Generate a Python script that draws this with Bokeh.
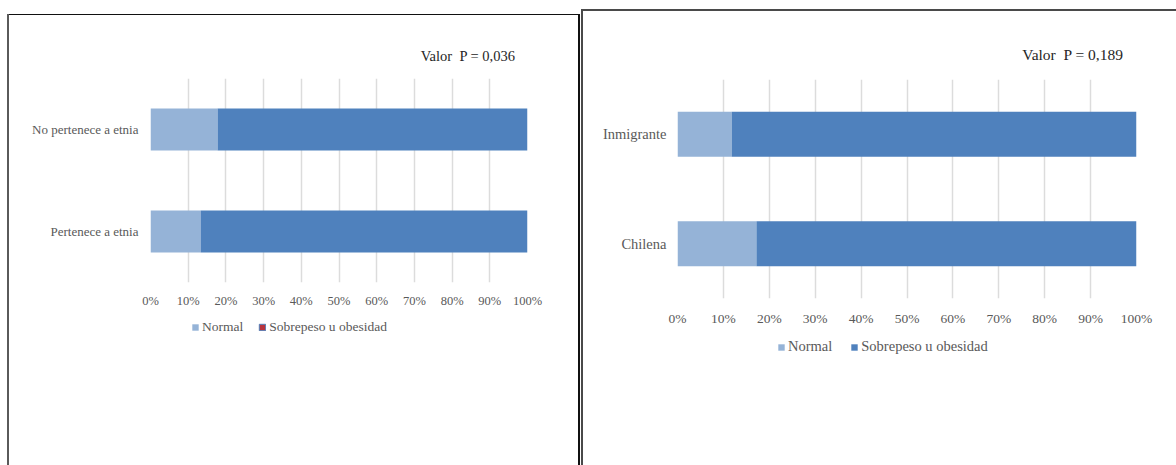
from bokeh.plotting import figure
from bokeh.models import (Range1d, FactorRange, PrintfTickFormatter, Legend,
                          LegendItem, ColumnDataSource)
from bokeh.layouts import row, column
from bokeh.embed import file_html
from bokeh.resources import INLINE

# Estado nutricional según etnia y según nacionalidad (porcentajes)
series = ["Normal", "Sobrepeso u obesidad"]

etnia_groups = ["Pertenece a etnia", "No pertenece a etnia"]
etnia_normal = [13.3, 17.8]
etnia_sobrepeso = [86.7, 82.2]
etnia_p = "Valor \u00a0P = 0,036"

origen_groups = ["Chilena", "Inmigrante"]
origen_normal = [17.2, 11.8]
origen_sobrepeso = [82.8, 88.2]
origen_p = "Valor \u00a0P = 0,189"

x_ticks = [0, 10, 20, 30, 40, 50, 60, 70, 80, 90, 100]

COLORS = ["#95b3d7", "#4f81bd"]
FONT = "Liberation Serif"
TEXT = "#595959"


def frame_css(lines):
    """Thin panel border lines painted as CSS background strips."""
    imgs = ", ".join("linear-gradient(%s, %s)" % (c, c) for c, _, _ in lines)
    sizes = ", ".join(s for _, s, _ in lines)
    pos = ", ".join(p for _, _, p in lines)
    return {"background-color": "white", "background-image": imgs,
            "background-size": sizes, "background-position": pos,
            "background-repeat": "no-repeat"}


def chart(groups, normal, sobre, ptext, width, height, borders, sizes):
    ml, mr, mt, mb = borders
    (fs_cat, fs_tick, fs_title, cat_off, tick_off,
     title_off, title_gap) = sizes
    p = figure(width=width, height=height,
               y_range=FactorRange(*groups), x_range=Range1d(0, 100),
               output_backend="svg", toolbar_location=None,
               min_border_left=ml, min_border_right=mr,
               min_border_top=mt, min_border_bottom=mb)
    p.frame_align = False
    p.outline_line_color = None
    p.background_fill_color = None
    p.border_fill_color = None

    src = ColumnDataSource(dict(group=groups, normal=normal, sobre=sobre))
    p.hbar_stack(["normal", "sobre"], y="group", height=0.41,
                 color=COLORS, line_color=None, source=src)

    p.xaxis.ticker = x_ticks
    p.xaxis.formatter = PrintfTickFormatter(format="%d%%")
    for ax in (p.xaxis, p.yaxis):
        ax.axis_line_color = None
        ax.major_tick_line_color = None
        ax.minor_tick_line_color = None
        ax.major_tick_out = 0
        ax.major_tick_in = 0
        ax.major_label_text_font = FONT
        ax.major_label_text_color = TEXT
    p.xaxis.major_label_text_font_size = fs_tick
    p.xaxis.major_label_standoff = tick_off
    p.yaxis.major_label_text_font_size = fs_cat
    p.yaxis.major_label_standoff = cat_off

    p.ygrid.visible = False
    p.xgrid.grid_line_color = "#dcdcdc"
    p.xgrid.grid_line_width = 1.5

    # p-value heading
    p.title.text = ptext
    p.title.align = "right"
    p.title.offset = title_off
    p.title.standoff = title_gap
    p.title.text_font = FONT
    p.title.text_font_size = fs_title
    p.title.text_font_style = "normal"
    p.title.text_color = "#262626"
    return p


def legend_strip(width, height, fills, outlines, xy, fs, gap):
    """Horizontal series key drawn in its own strip below the chart."""
    p = figure(width=width, height=height, x_range=Range1d(0, 1),
               y_range=Range1d(0, 1), output_backend="svg",
               toolbar_location=None, min_border=0,
               x_axis_location=None, y_axis_location=None)
    p.frame_align = False
    p.grid.visible = False
    p.outline_line_color = None
    p.background_fill_color = None
    p.border_fill_color = None
    # key swatches: one bar each, placed outside the strip's visible range
    keys = [p.hbar(y=[-10], left=[0], right=[1], height=1,
                   fill_color=f, line_color=o, line_width=1)
            for f, o in zip(fills, outlines)]
    items = [LegendItem(label=s, renderers=[r]) for s, r in zip(series, keys)]
    p.add_layout(Legend(items=items, orientation="horizontal", location=xy,
                        padding=0, margin=0, spacing=gap, label_standoff=3,
                        glyph_width=8, glyph_height=8, label_height=14,
                        border_line_color=None, background_fill_alpha=0,
                        label_text_font=FONT, label_text_font_size=fs,
                        label_text_color=TEXT))
    return p


c1 = chart(etnia_groups, etnia_normal, etnia_sobrepeso, etnia_p, 580, 310,
           (150, 53, 78, 28),
           ("13px", "12.5px", "14.5px", 12, 11, 12, 30))
k1 = legend_strip(580, 155, [COLORS[0], "#b8343c"], [None, COLORS[1]],
                  (191, 130), "13.5px", 15)
c2 = chart(origen_groups, origen_normal, origen_sobrepeso, origen_p, 596, 330,
           (97, 40, 79, 32),
           ("14.5px", "13.5px", "15.5px", 11, 12, 13, 33))
k2 = legend_strip(596, 135, COLORS, [None, None], (777 - 580, 110),
                  "14.5px", 18)

left = column(c1, k1)
left.styles = frame_css([("#5a5a5a", "2px 460px", "7px 14px"),
                         ("#111111", "573px 1px", "7px 14px"),
                         ("#111111", "2px 460px", "578px 14px")])
right = column(c2, k2)
right.styles = frame_css([("#4a4a4a", "2px 460px", "1px 10px"),
                          ("#4a4a4a", "100% 2px", "1px 9px")])

layout = row(left, right)
open("out.html", "w").write(file_html(layout, INLINE))
